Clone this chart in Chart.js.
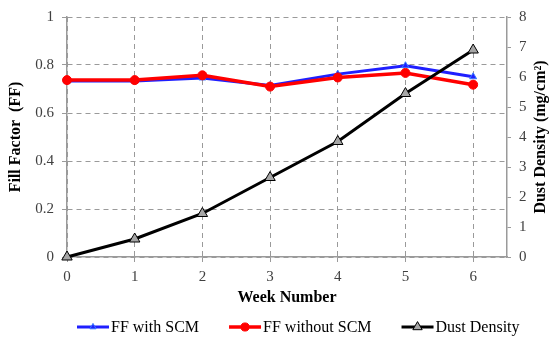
<!DOCTYPE html>
<html><head><meta charset="utf-8">
<script src="https://cdn.jsdelivr.net/npm/chart.js@4"></script>
<style>html,body{margin:0;padding:0;background:#fff}</style>
</head><body>
<canvas id="c" width="554" height="342"></canvas>
<script>
const weeks = [0, 1, 2, 3, 4, 5, 6];
const ffWithSCM = [0.733, 0.733, 0.746, 0.715, 0.762, 0.797, 0.751];
const ffWithoutSCM = [0.737, 0.737, 0.757, 0.710, 0.748, 0.767, 0.718];
const dustDensity = [0, 0.6, 1.45, 2.65, 3.85, 5.45, 6.9];
const ffTicks = [0, 0.2, 0.4, 0.6, 0.8, 1];
const dustTicks = [0, 1, 2, 3, 4, 5, 6, 7, 8];
const legendNames = ['FF with SCM', 'FF without SCM', 'Dust Density'];

const SERIF = "'Liberation Serif', 'DejaVu Serif', serif";
const GRID = '#9a9a9a';
const pts = arr => weeks.map((w, i) => ({x: w, y: arr[i]}));

const styles = [
  {color: '#1f1fff', ps: 'triangle', r: 4, fill: '#1f1fff', pb: '#3a7bff', bw: 3},
  {color: '#ff0000', ps: 'circle', r: 4.5, fill: '#ff0000', pb: '#ff0000', bw: 3.5},
  {color: '#000000', ps: 'triangle', r: 6, fill: '#a6a6a6', pb: '#000000', bw: 3}
];

const legendPlugin = {
  id: 'customLegendTitles',
  afterDraw(chart) {
    const ctx = chart.ctx;
    const ca = chart.chartArea;
    ctx.save();
    ctx.font = "bold 16px " + SERIF;
    ctx.fillStyle = '#000';
    ctx.textAlign = 'center';
    ctx.textBaseline = 'middle';
    ctx.translate(541, (ca.top + ca.bottom) / 2);
    ctx.rotate(-Math.PI / 2);
    ctx.fillText('Dust Density (mg/cm\u00B2)', 0, 0);
    ctx.restore();

    ctx.save();
    ctx.font = "16px " + SERIF;
    ctx.textBaseline = 'middle';
    const y = 327;
    let x = 77;
    const lineLen = 32;
    legendNames.forEach((name, i) => {
      const s = styles[i];
      ctx.strokeStyle = s.color;
      ctx.lineWidth = s.bw;
      ctx.beginPath();
      ctx.moveTo(x, y);
      ctx.lineTo(x + lineLen, y);
      ctx.stroke();
      ctx.fillStyle = s.fill; ctx.strokeStyle = s.pb; ctx.lineWidth = 1;
      Chart.helpers.drawPoint(ctx, {pointStyle: s.ps, radius: s.r * 0.9, borderWidth: 1, rotation: 0}, x + lineLen / 2, y);
      ctx.fillStyle = '#000';
      ctx.fillText(name, x + lineLen + 2, y + 1);
      x += lineLen + 2 + ctx.measureText(name).width + 30;
    });
    ctx.restore();
  }
};

const mk = (i, arr, axis, order) => ({
  label: legendNames[i],
  data: pts(arr),
  yAxisID: axis,
  order: order,
  borderColor: styles[i].color,
  borderWidth: styles[i].bw,
  pointStyle: styles[i].ps,
  pointRadius: styles[i].r,
  pointBackgroundColor: styles[i].fill,
  pointBorderColor: styles[i].pb,
  pointBorderWidth: 1,
  tension: 0,
  clip: false
});

const tickFont = {family: SERIF, size: 15};

new Chart(document.getElementById('c'), {
  type: 'line',
  data: {
    datasets: [
      mk(0, ffWithSCM, 'y', 2),
      mk(1, ffWithoutSCM, 'y', 1),
      mk(2, dustDensity, 'y1', 0)
    ]
  },
  options: {
    responsive: false,
    devicePixelRatio: 1,
    animation: false,
    layout: {padding: {top: 9, bottom: 35, left: 0, right: 0}},
    plugins: {legend: {display: false}, tooltip: {enabled: false}},
    scales: {
      x: {
        type: 'linear', min: 0, max: 6.5,
        afterBuildTicks: s => { s.ticks = weeks.map(v => ({value: v})); },
        afterFit: s => { s.height = 50; },
        ticks: {font: tickFont, color: '#404040', padding: 6, callback: v => String(v)},
        grid: {color: GRID, lineWidth: 1, tickLength: 5},
        border: {display: true, color: GRID, width: 1.5, dash: [5, 4]},
        title: {display: true, text: 'Week Number', font: {family: SERIF, size: 16, weight: 'bold'}, color: '#000', padding: {top: 2, bottom: 0}}
      },
      y: {
        position: 'left', min: 0, max: 1,
        afterBuildTicks: s => { s.ticks = ffTicks.map(v => ({value: v})); },
        afterFit: s => { s.width = 67; },
        ticks: {font: tickFont, color: '#404040', padding: 8, callback: v => String(v)},
        grid: {color: GRID, lineWidth: 1, tickLength: 5},
        border: {display: true, color: GRID, width: 1.5, dash: [5, 4]},
        title: {display: true, text: 'Fill Factor  (FF)', font: {family: SERIF, size: 16, weight: 'bold'}, color: '#000', padding: {top: 6, bottom: 0}}
      },
      y1: {
        position: 'right', min: 0, max: 8,
        afterBuildTicks: s => { s.ticks = dustTicks.map(v => ({value: v})); },
        afterFit: s => { s.width = 47; },
        ticks: {font: tickFont, color: '#404040', padding: 8, callback: v => String(v)},
        grid: {drawOnChartArea: false, drawTicks: true, tickLength: 4, tickColor: GRID, color: GRID},
        border: {display: true, color: GRID, width: 1.5}
      }
    }
  },
  plugins: [legendPlugin]
});
</script>
</body></html>
